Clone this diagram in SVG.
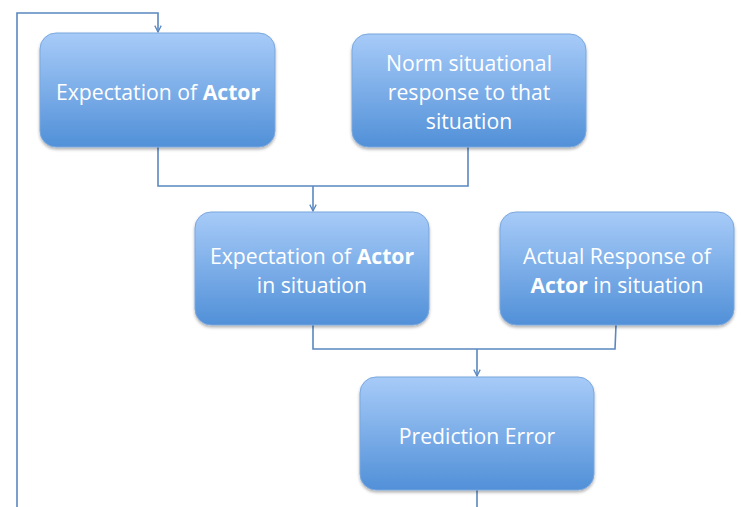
<svg xmlns="http://www.w3.org/2000/svg" width="742" height="507" viewBox="0 0 742 507">
<defs>
<linearGradient id="g" x1="0" y1="0" x2="0" y2="1">
<stop offset="0" stop-color="#a7cbf8"/>
<stop offset="1" stop-color="#5190d8"/>
</linearGradient>
<filter id="sh" x="-10%" y="-10%" width="120%" height="130%">
<feDropShadow dx="0" dy="2" stdDeviation="1.5" flood-color="#000" flood-opacity="0.3"/>
</filter>
<marker id="ar" viewBox="0 0 10 10" refX="9" refY="5" markerWidth="8" markerHeight="8" markerUnits="userSpaceOnUse" orient="auto">
<path d="M1,1 L9,5 L1,9" fill="none" stroke="#5a88c0" stroke-width="1.6"/>
</marker>
<style>
.box{fill:url(#g);stroke:#7ba7dd;stroke-width:1;filter:url(#sh)}
.t{font-family:"Open Sans","Liberation Sans",sans-serif;font-size:21.2px;fill:#ffffff;text-anchor:middle}
.b{font-weight:bold}
.c{fill:none;stroke:#5a88c0;stroke-width:1.6}
</style>
</defs>
<g id="connectors">
<path class="c" d="M17,507 V13 H158 V32" marker-end="url(#ar)"/>
<path class="c" d="M158,147 V186 H468 V147"/>
<path class="c" d="M313,186 V211" marker-end="url(#ar)"/>
<path class="c" d="M313,325 V349 H615 L616,325"/>
<path class="c" d="M477,349 V376" marker-end="url(#ar)"/>
<path class="c" d="M477,490 V507"/>
</g>
<g id="n1">
<rect class="box" x="40" y="33" width="235" height="114" rx="16"/>
<text class="t" x="158" y="100">Expectation of <tspan class="b">Actor</tspan></text>
</g>
<g id="n2">
<rect class="box" x="352" y="34" width="234" height="113" rx="16"/>
<text class="t" x="469" y="71">Norm situational</text>
<text class="t" x="469" y="100">response to that</text>
<text class="t" x="469" y="129">situation</text>
</g>
<g id="n3">
<rect class="box" x="195" y="212" width="234" height="113" rx="16"/>
<text class="t" x="312" y="264">Expectation of <tspan class="b">Actor</tspan></text>
<text class="t" x="312" y="293">in situation</text>
</g>
<g id="n4">
<rect class="box" x="500" y="212" width="234" height="113" rx="16"/>
<text class="t" x="617" y="264">Actual Response of</text>
<text class="t" x="617" y="293"><tspan class="b">Actor</tspan> in situation</text>
</g>
<g id="n5">
<rect class="box" x="360" y="377" width="234" height="113" rx="16"/>
<text class="t" x="477" y="444">Prediction Error</text>
</g>
</svg>
